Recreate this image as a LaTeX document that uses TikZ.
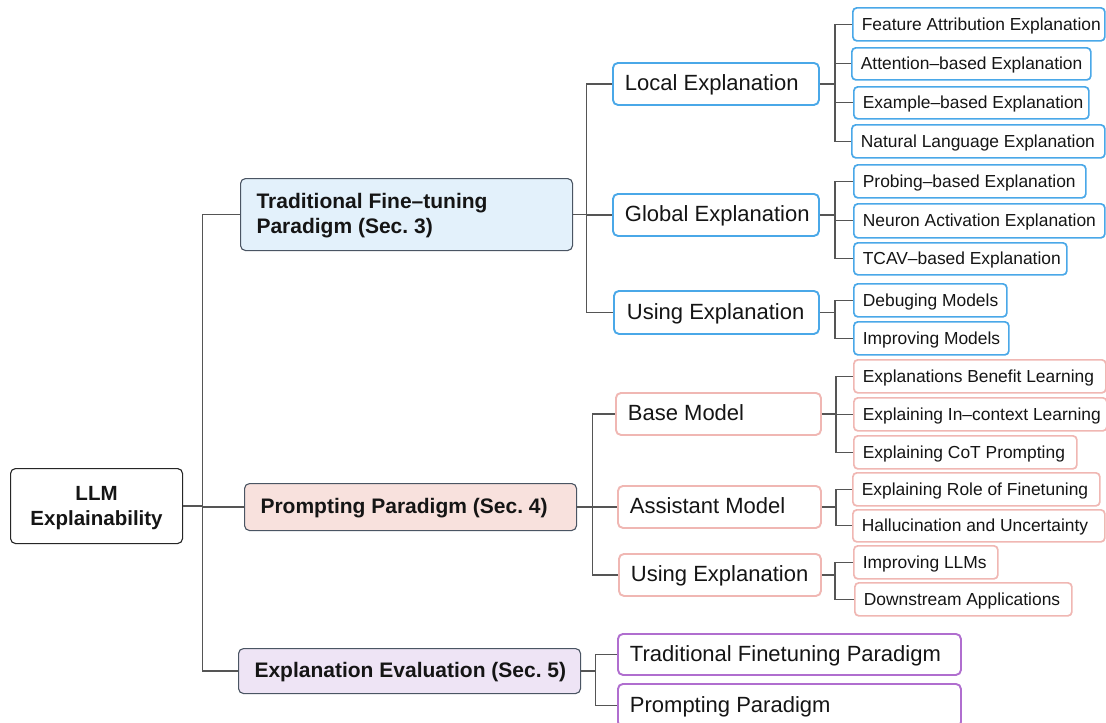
\documentclass[tikz,border=0pt]{standalone}
\usepackage{fontspec}
\setmainfont{Liberation Sans}
\frenchspacing
\definecolor{lnk}{HTML}{555555}
\definecolor{bl}{HTML}{4AA8E8}
\definecolor{pk}{HTML}{F0B7B3}
\definecolor{pu}{HTML}{B06ECF}
\definecolor{tfill}{HTML}{E3F1FB}
\definecolor{pfill}{HTML}{F8E1DD}
\definecolor{efill}{HTML}{EEE4F5}
\definecolor{dk}{HTML}{4A5563}
\definecolor{txt}{HTML}{151515}
\newcommand\mkbox[9]{%
\pgfmathsetmacro\bxw{#5-#3}%
\pgfmathsetmacro\bxh{#6-#4}%
\pgfmathsetmacro\bxt{#5-#3-2*#7}%
\node[#2, anchor=north west, inner xsep=#7pt, minimum width=\bxw pt, minimum height=\bxh pt] (#1) at (#3,#4) {\makebox[\bxt pt][#9]{#8}};}
\tikzset{
  rootbox/.style={draw=black!85, line width=1.1pt, rounded corners=5pt, fill=white, text=txt, font=\bfseries\fontsize{20.5}{25}\selectfont, inner ysep=0pt},
  lvone/.style={draw=dk, line width=1.1pt, rounded corners=5pt, text=txt, font=\bfseries\fontsize{21}{25}\selectfont, inner ysep=0pt},
  lvtwo/.style={line width=1.9pt, rounded corners=5pt, fill=white, text=txt, font=\fontsize{22}{26}\selectfont, text height=17.5pt, text depth=3.5pt, inner ysep=0pt},
  leaf/.style={line width=1.7pt, rounded corners=4pt, fill=white, text=txt, font=\fontsize{17.4}{20}\selectfont, text height=13.8pt, text depth=2.4pt, inner ysep=0pt},
  link/.style={draw=lnk, line width=1.2pt}
}
\begin{document}
\begin{tikzpicture}[x=1pt,y=-1pt]
\clip (0,0) rectangle (1106,723);
\fill[white] (0,0) rectangle (1106,723);
% root and level 1
\mkbox{root}{rootbox}{10}{468}{182}{543}{4}{\raisebox{-2pt}[\height][\depth]{\begin{tabular}{@{}c@{}}LLM\\Explainability\end{tabular}}}{c}
\mkbox{trad}{lvone,fill=tfill}{240}{178}{572}{250}{16}{\raisebox{-1.5pt}[\height][\depth]{\begin{tabular}{@{}l@{}}Traditional Fine–tuning\\Paradigm (Sec. 3)\end{tabular}}}{l}
\mkbox{prompt}{lvone,fill=pfill}{244}{483}{576}{530}{16}{\raisebox{-1pt}[\height][\depth]{Prompting Paradigm (Sec. 4)}}{l}
\mkbox{eval}{lvone,fill=efill}{238}{648}{580}{693}{16}{\raisebox{-1pt}[\height][\depth]{Explanation Evaluation (Sec. 5)}}{l}
% level 2, traditional
\mkbox{local}{lvtwo,draw=bl}{612}{62}{818}{104}{12}{Local Explanation}{l}
\mkbox{global}{lvtwo,draw=bl}{612}{193}{818}{235}{12}{Global Explanation}{l}
\mkbox{usingA}{lvtwo,draw=bl}{613}{290}{818}{333}{13}{Using Explanation}{l}
% leaves, traditional
\mkbox{feat}{leaf,draw=bl}{852}{7}{1104}{40}{9}{Feature Attribution Explanation}{l}
\mkbox{attn}{leaf,draw=bl}{851}{47}{1090}{79}{9}{Attention–based Explanation}{l}
\mkbox{exam}{leaf,draw=bl}{853}{86}{1088}{118}{9}{Example–based Explanation}{l}
\mkbox{natl}{leaf,draw=bl}{851}{124}{1104}{157}{9}{Natural Language Explanation}{l}
\mkbox{prob}{leaf,draw=bl}{853}{164}{1085}{197}{9}{Probing–based Explanation}{l}
\mkbox{neur}{leaf,draw=bl}{853}{203}{1104}{237}{9}{Neuron Activation Explanation}{l}
\mkbox{tcav}{leaf,draw=bl}{853}{242}{1066}{274}{9}{TCAV–based Explanation}{l}
\mkbox{debug}{leaf,draw=bl}{853}{283}{1006}{316}{9}{Debuging Models}{l}
\mkbox{impm}{leaf,draw=bl}{853}{321}{1008}{354}{9}{Improving Models}{l}
% level 2, prompting
\mkbox{base}{lvtwo,draw=pk}{615}{392}{820}{434}{12}{Base Model}{l}
\mkbox{asst}{lvtwo,draw=pk}{617}{485}{820}{527}{12}{Assistant Model}{l}
\mkbox{usingB}{lvtwo,draw=pk}{618}{553}{820}{595}{12}{Using Explanation}{l}
% leaves, prompting
\mkbox{ebl}{leaf,draw=pk}{853}{359}{1105}{392}{9}{Explanations Benefit Learning}{l}
\mkbox{eicl}{leaf,draw=pk}{853}{397}{1106}{430}{9}{Explaining In–context Learning}{l}
\mkbox{ecot}{leaf,draw=pk}{853}{435}{1076}{468}{9}{Explaining CoT Prompting}{l}
\mkbox{erf}{leaf,draw=pk}{852}{472}{1099}{505}{9}{Explaining Role of Finetuning}{l}
\mkbox{hal}{leaf,draw=pk}{852}{509}{1104}{541}{9}{Hallucination and Uncertainty}{l}
\mkbox{illm}{leaf,draw=pk}{853}{545}{997}{578}{9}{Improving LLMs}{l}
\mkbox{down}{leaf,draw=pk}{854}{582}{1071}{615}{9}{Downstream Applications}{l}
% level 2, evaluation
\mkbox{tfp}{lvtwo,draw=pu}{617}{633}{960}{674}{12}{Traditional Finetuning Paradigm}{l}
\mkbox{pp}{lvtwo,draw=pu}{617}{683}{960}{726}{12}{Prompting Paradigm}{l}
% connectors
\draw[link] (root.east) -- ++(19,0) coordinate (rj);
\draw[link] (rj) |- (trad.west);
\draw[link] (rj) |- (prompt.west);
\draw[link] (rj) |- (eval.west);
\draw[link] (trad.east) -- ++(13,0) coordinate (tj);
\draw[link] (tj) |- (local.west);
\draw[link] (tj) |- (global.west);
\draw[link] (tj) |- (usingA.west);
\draw[link] (local.east) -- ++(15,0) coordinate (lj);
\foreach \n in {feat,attn,exam,natl} \draw[link] (lj) |- (\n.west);
\draw[link] (global.east) -- ++(15,0) coordinate (gj);
\foreach \n in {prob,neur,tcav} \draw[link] (gj) |- (\n.west);
\draw[link] (usingA.east) -- ++(15,0) coordinate (uj);
\foreach \n in {debug,impm} \draw[link] (uj) |- (\n.west);
\draw[link] (prompt.east) -- ++(15,0) coordinate (pj);
\draw[link] (pj) |- (base.west);
\draw[link] (pj) |- (asst.west);
\draw[link] (pj) |- (usingB.west);
\draw[link] (base.east) -- ++(14,0) coordinate (bj);
\foreach \n in {ebl,eicl,ecot} \draw[link] (bj) |- (\n.west);
\draw[link] (asst.east) -- ++(14,0) coordinate (aj);
\foreach \n in {erf,hal} \draw[link] (aj) |- (\n.west);
\draw[link] (usingB.east) -- ++(13,0) coordinate (vj);
\foreach \n in {illm,down} \draw[link] (vj) |- (\n.west);
\draw[link] (eval.east) -- ++(14,0) coordinate (ej);
\draw[link] (ej) |- (tfp.west);
\draw[link] (ej) |- (pp.west);
\end{tikzpicture}
\end{document}
